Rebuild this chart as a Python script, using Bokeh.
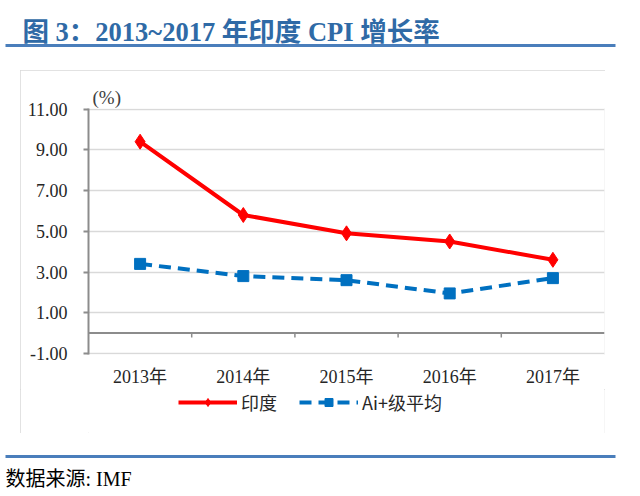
from bokeh.plotting import figure
from bokeh.layouts import column, row
from bokeh.models import (Range1d, FixedTicker, NumeralTickFormatter, Span,
                          Legend, LegendItem, Spacer)
from bokeh.core.properties import value
from bokeh.embed import file_html
from bokeh.resources import INLINE

years = ["2013年", "2014年", "2015年", "2016年", "2017年"]
india = [9.4, 5.8, 4.9, 4.5, 3.6]
ai_plus = [3.4, 2.8, 2.6, 1.95, 2.7]
y_ticks = [-1, 1, 3, 5, 7, 9, 11]
title_text = "图 3：2013~2017 年印度 CPI 增长率"
source_text = "数据来源: IMF"
unit_text = "(%)"
series_names = ["印度", "Ai+级平均"]

xs = list(range(1, len(years) + 1))

SERIF = "'Liberation Serif', 'Noto Sans CJK SC'"
SANS = "'Noto Sans CJK SC'"
RULE = "#4a7ebb"
RED = "#ff0000"
BLUE = "#0070c0"


def deco_fig(w, h):
    f = figure(width=w, height=h, output_backend="svg", toolbar_location=None,
               x_range=Range1d(0, w), y_range=Range1d(h, 0),
               x_axis_type=None, y_axis_type=None, min_border=0)
    f.outline_line_color = None
    f.grid.grid_line_color = None
    return f


# ---- header ----
head = deco_fig(640, 60)
head.text(x=[22], y=[31], text=[title_text], text_font=value(SERIF), text_font_size="26.5px",
          text_font_style="bold", text_color="#2f6aa6", text_baseline="middle")
head.quad(left=[5], right=[615], top=[43.5], bottom=[46.5], fill_color=RULE, line_color=None)

# ---- chart ----
p = figure(width=585, height=319, output_backend="svg", toolbar_location=None,
           x_range=Range1d(0.5, len(years) + 0.5), y_range=Range1d(-1.05, 11.03),
           min_border_left=68, min_border_right=1, min_border_top=38, min_border_bottom=33)
p.outline_line_color = None
p.title.text = unit_text
p.title.align = "left"
p.title.offset = 4
p.title.standoff = 2
p.title.text_font = SERIF
p.title.text_font_size = "19px"
p.title.text_font_style = "normal"
p.title.text_color = "#404040"

p.xaxis.ticker = FixedTicker(ticks=xs)
p.xaxis.major_label_overrides = {x: y for x, y in zip(xs, years)}
p.xaxis.axis_line_color = None
p.xaxis.major_tick_line_color = None
p.xaxis.major_tick_out = 0
p.xaxis.minor_tick_line_color = None
p.xaxis.major_label_standoff = 12
p.xaxis.major_label_text_font = SERIF
p.xaxis.major_label_text_font_size = "18px"
p.xaxis.major_label_text_color = "#262626"

p.yaxis.ticker = FixedTicker(ticks=y_ticks)
p.yaxis.formatter = NumeralTickFormatter(format="0.00")
p.yaxis.axis_line_color = "#8c8c8c"
p.yaxis.axis_line_width = 2
p.yaxis.major_tick_line_color = "#8c8c8c"
p.yaxis.major_tick_line_width = 2
p.yaxis.major_tick_out = 5
p.yaxis.major_tick_in = 0
p.yaxis.minor_tick_line_color = None
p.yaxis.major_label_standoff = 16
p.yaxis.major_label_text_font = SERIF
p.yaxis.major_label_text_font_size = "18px"
p.yaxis.major_label_text_color = "#262626"

p.xgrid.grid_line_color = None
p.ygrid.ticker = FixedTicker(ticks=y_ticks)
p.ygrid.grid_line_color = "#d9d9d9"
p.ygrid.grid_line_width = 1.5

# zero axis line with tick marks between categories
p.add_layout(Span(location=0, dimension="width", line_color="#8c8c8c", line_width=2))
bounds = [x + 0.5 for x in xs[:-1]]
p.segment(x0=bounds, x1=bounds, y0=[0] * len(bounds), y1=[-0.22] * len(bounds),
          line_color="#8c8c8c", line_width=1.5)

p.line(xs, india, line_color=RED, line_width=4)
p.scatter(xs, india, marker="diamond", size=15, fill_color=RED, line_color=RED)
p.line(xs, ai_plus, line_color=BLUE, line_width=4, line_dash="12 7")
p.scatter(xs, ai_plus, marker="square", size=11, fill_color=BLUE, line_color=BLUE)

# ---- legend strip (inside the chart box); proxies sit off-canvas ----
leg = deco_fig(585, 44)
off_x = [-1000, -999]
off_y = [-1000, -1000]
l1 = leg.line(x=off_x, y=off_y, line_color=RED, line_width=4)
m1 = leg.scatter(x=off_x, y=off_y, marker="diamond", size=13, fill_color=RED, line_color=RED)
l2 = leg.line(x=off_x, y=off_y, line_color=BLUE, line_width=4, line_dash="12 7")
m2 = leg.scatter(x=off_x, y=off_y, marker="square", size=11, fill_color=BLUE, line_color=BLUE)
legend = Legend(items=[LegendItem(label=series_names[0], renderers=[l1, m1]),
                       LegendItem(label=series_names[1], renderers=[l2, m2])],
                orientation="horizontal", location=(90, 18),
                glyph_width=59, glyph_height=20, label_standoff=4, spacing=22,
                padding=0, margin=0, border_line_color=None, background_fill_alpha=0,
                label_text_font=SANS, label_text_font_size="18px", label_text_color="#262626",
                label_height=20)
leg.add_layout(legend, "center")

box = column(p, leg, styles={"outline": "1.5px solid #d9d9d9", "outline-offset": "-1.5px"})

# ---- footer ----
foot = deco_fig(640, 63)
foot.quad(left=[5], right=[615], top=[21.5], bottom=[24.5], fill_color=RULE, line_color=None)
foot.text(x=[5], y=[45], text=[source_text], text_font=value(SERIF), text_font_size="20px",
          text_color="#000000", text_baseline="middle")

layout = column(head,
                Spacer(width=640, height=10),
                row(Spacer(width=20, height=363), box, Spacer(width=35, height=363)),
                foot)

open("out.html", "w").write(file_html(layout, INLINE))
